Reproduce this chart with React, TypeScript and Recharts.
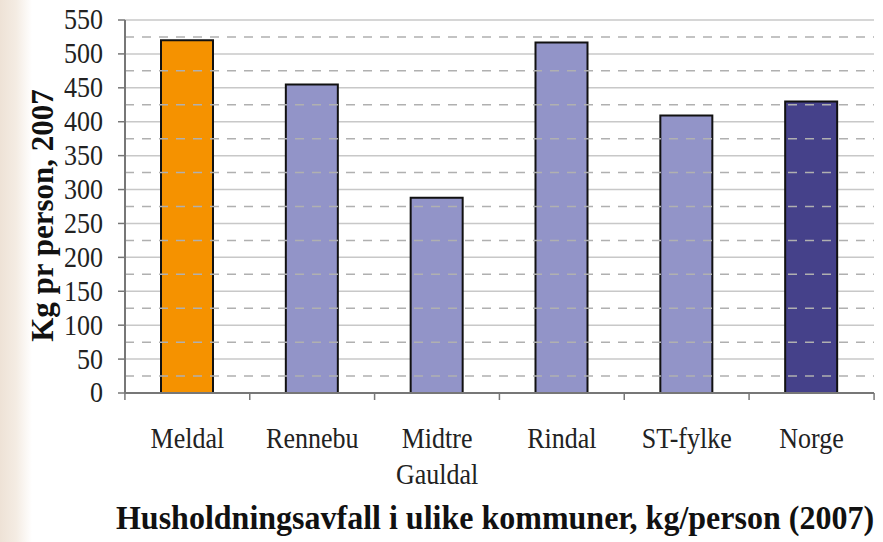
import React from 'react';
import {
  BarChart,
  Bar,
  Cell,
  XAxis,
  YAxis,
  CartesianGrid,
  ReferenceLine
} from 'recharts';

const categories = ['Meldal', 'Rennebu', 'Midtre Gauldal', 'Rindal', 'ST-fylke', 'Norge'];
const kgPerPerson = [520, 455, 288, 517, 409, 430];
const barColors = ['#f59200', '#9294c8', '#9294c8', '#9294c8', '#9294c8', '#45418a'];
const yTicks = [0, 50, 100, 150, 200, 250, 300, 350, 400, 450, 500, 550];
const minorLines = [25, 75, 125, 175, 225, 275, 325, 375, 425, 475, 525];

const chartData = categories.map((name, i) => ({ name, value: kgPerPerson[i] }));

const FONT = '"Liberation Serif", "Times New Roman", serif';
const BAND = 125; // width of one category band in px

const XTick = (props: any) => {
  const { x, y, payload, index } = props;
  const lines = String(payload.value).split(' ');
  return (
    <g>
      <line x1={x - BAND / 2} x2={x - BAND / 2} y1={y} y2={y + 7} stroke="#777" strokeWidth={1.5} />
      {index === categories.length - 1 && (
        <line x1={x + BAND / 2} x2={x + BAND / 2} y1={y} y2={y + 7} stroke="#777" strokeWidth={1.5} />
      )}
      {lines.map((ln, i) => (
        <text
          key={i}
          x={0}
          y={0}
          textAnchor="middle"
          fontFamily={FONT}
          fontSize={26}
          fill="#222"
          transform={`translate(${x}, ${y + 55 + i * 36}) scale(1, 1.12)`}
        >
          {ln}
        </text>
      ))}
    </g>
  );
};

const YTick = (props: any) => {
  const { x, y, payload } = props;
  return (
    <text
      x={0}
      y={0}
      textAnchor="end"
      dominantBaseline="central"
      fontFamily={FONT}
      fontSize={26}
      fill="#222"
      transform={`translate(${x}, ${y}) scale(1, 1.1)`}
    >
      {payload.value}
    </text>
  );
};

const YLabel = (props: any) => {
  const vb = props.viewBox || {};
  const cx = 42;
  const cy = vb.height ? vb.y + vb.height / 2 + 9 : 215;
  return (
    <text
      x={cx}
      y={cy}
      transform={`rotate(-90 ${cx} ${cy})`}
      textAnchor="middle"
      dominantBaseline="central"
      fontFamily={FONT}
      fontWeight="bold"
      fontSize={31}
      fill="#111"
    >
      Kg pr person, 2007
    </text>
  );
};

export default function App() {
  return (
    <div
      style={{
        position: 'absolute',
        left: 0,
        top: 0,
        width: 883,
        height: 542,
        background: 'linear-gradient(to right, #eee2d6 0px, #f4ece3 16px, #ffffff 32px)'
      }}
    >
      <BarChart
        width={883}
        height={542}
        data={chartData}
        margin={{ top: 20, right: 9, left: 0, bottom: 49 }}
        barSize={52}
      >
        <CartesianGrid vertical={false} stroke="#c8c8c8" strokeWidth={1.5} />
        {minorLines.map(v => (
          <ReferenceLine key={v} y={v} stroke="#b0b0b0" strokeWidth={1.5} strokeDasharray="9 8" />
        ))}
        <XAxis
          dataKey="name"
          height={100}
          interval={0}
          tickLine={false}
          tickSize={0}
          tickMargin={0}
          axisLine={{ stroke: '#777', strokeWidth: 2 }}
          tick={<XTick />}
        />
        <XAxis
          xAxisId="top"
          orientation="top"
          dataKey="name"
          height={0}
          tick={false}
          tickLine={false}
          axisLine={{ stroke: '#888', strokeWidth: 2 }}
        />
        <YAxis
          width={125}
          domain={[0, 550]}
          ticks={yTicks}
          interval={0}
          tickSize={7}
          tickMargin={15}
          tickLine={{ stroke: '#777', strokeWidth: 1.5 }}
          axisLine={{ stroke: '#777', strokeWidth: 2 }}
          tick={<YTick />}
          label={<YLabel />}
        />
        <YAxis
          yAxisId="right"
          orientation="right"
          width={0}
          domain={[0, 550]}
          tick={false}
          tickLine={false}
          axisLine={{ stroke: '#888', strokeWidth: 2 }}
        />
        <Bar dataKey="value" stroke="#111" strokeWidth={2} isAnimationActive={false}>
          {chartData.map((d, i) => (
            <Cell key={d.name} fill={barColors[i]} />
          ))}
        </Bar>
      </BarChart>
      <div
        style={{
          position: 'absolute',
          left: 0,
          width: 990,
          top: 499,
          textAlign: 'center',
          fontFamily: FONT,
          fontWeight: 'bold',
          fontSize: 32,
          color: '#111',
          transform: 'scaleY(1.08)',
          whiteSpace: 'nowrap'
        }}
      >
        Husholdningsavfall i ulike kommuner, kg/person (2007)
      </div>
    </div>
  );
}
